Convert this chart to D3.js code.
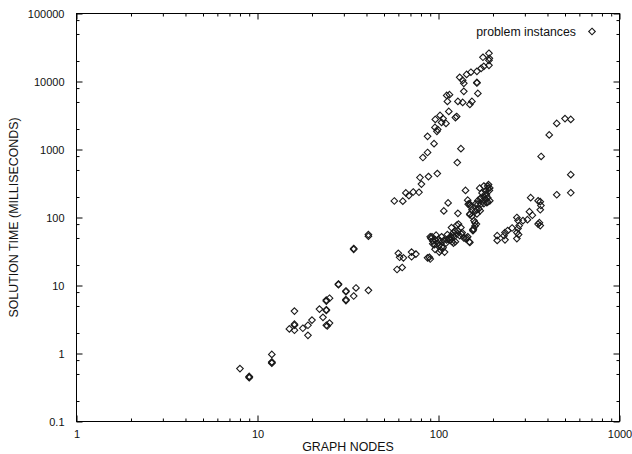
<!DOCTYPE html>
<html>
<head>
<meta charset="utf-8">
<style>
    body { margin: 0; background: white; }
    svg { display: block; font-family: "Liberation Sans", Arial, sans-serif; }
    .tick text { font-size: 11px; fill: #111; }
    .domain { display: none; }
</style>
<script src="https://cdn.jsdelivr.net/npm/d3@7"></script>
</head>
<body>
<svg id="chart"></svg>
<script>

// [graph nodes, solution time in ms]
let smallGraphs = [
    [8, 0.6], [9, 0.45], [9, 0.44], [9, 0.46], [12, 0.97], [12, 0.75], [12, 0.72], [12, 0.74],
    [16, 4.2], [15, 2.3], [16, 2.6], [16, 2.7], [16, 2.2], [17.8, 2.35], [19, 2.6], [20, 3.1], [19, 1.85],
    [22, 4.5], [23, 3.4], [24, 4.3], [24, 4.4], [24, 5.9], [24, 6.1], [25, 6.5], [24, 2.6], [24.3, 2.55],
    [25, 2.8], [28, 10.5], [28, 10.3], [30.8, 8.3], [30.8, 8.1], [30.8, 6.0], [30.8, 6.2], [34, 7.0],
    [35, 9.2], [34, 35], [34, 34], [41, 56], [41, 53], [41, 8.5]
]

let lowerBranch = [
    [59, 17.2], [63, 18.4], [60, 29.7], [61, 26], [64, 25.5], [71, 31], [71, 26.5], [75, 29],
    [87, 25.5], [90, 24.5], [89, 26], [91, 49], [93, 41], [95.7, 34], [92, 52], [96, 47], [99, 42],
    [101, 39], [103, 33], [106, 36], [108, 31], [107, 46], [104, 37], [101, 31], [111, 47], [115, 50],
    [120, 54], [112, 56], [116, 46], [118, 50], [121, 60], [118, 71], [124, 63], [126, 77], [128, 64],
    [129, 80], [133, 71], [134, 57], [124, 44], [121, 42], [131, 54], [138, 50], [143, 50], [141, 49],
    [145, 52], [149, 43], [148, 44], [90, 52], [93, 45], [95, 40], [97, 55], [100, 48], [102, 45],
    [104, 52], [110, 42], [114, 48], [119, 44], [122, 52], [127, 58], [135, 60], [116, 52],
    [128, 115], [107, 125], [113, 164], [141, 250], [145, 180], [148, 160], [151, 145], [149, 113],
    [149, 110], [153, 105], [155, 64], [157, 90], [159, 84], [159, 75], [155, 66], [163, 113], [163, 130],
    [165, 157], [167, 134], [172, 158], [170, 126], [174, 230], [178, 290], [182, 245], [187, 290],
    [189, 305], [187, 195], [191, 250], [178, 160], [182, 185], [172, 193], [165, 177], [161, 160],
    [187, 170], [178, 200], [181, 220], [188, 270], [185, 165], [169, 270], [146, 157], [149, 150],
    [153, 130], [160, 125], [175, 175], [184, 215], [170, 190], [156, 68], [162, 80], [192, 272], [192, 176]
]

let upperBranch = [
    [57, 175], [63.5, 174], [66, 230], [68.6, 210], [72.5, 237], [78, 235], [79, 387], [80.5, 310],
    [88, 400], [98.5, 443], [82, 762], [87, 904], [87, 1560], [94.5, 1220], [99, 1970], [98, 1850],
    [95.6, 2110], [96, 2770], [106, 2850], [104, 2500], [110, 2420], [102, 3170], [126, 3060],
    [124, 2950], [114, 3630], [112, 5100], [111, 6250], [115, 6400], [128, 5100], [136, 4930],
    [149, 4600], [153, 5100], [127, 643], [133, 1030], [138, 7160], [165, 6680], [138, 9400],
    [136, 10400], [163, 9700], [163, 9500], [131, 11500], [143, 12700], [151, 13700], [163, 14100],
    [172, 15600], [178, 16700], [190, 17300], [191, 21900], [176, 22700], [190, 26000], [190, 20500]
]

let largeGraphs = [
    [211, 54], [211, 46], [230, 54], [233, 60], [233, 47], [241, 64], [255, 70], [271, 49],
    [277, 56], [271, 60], [275, 69], [279, 76], [271, 100], [275, 90], [293, 90], [310, 93],
    [330, 108], [318, 122], [323, 196], [355, 80], [361, 84], [365, 76], [365, 130], [368, 150],
    [355, 176], [365, 171], [369, 790], [409, 1640], [450, 2420], [500, 2850], [538, 2770],
    [538, 427], [538, 231], [450, 216]
]

let points = smallGraphs.concat(lowerBranch, upperBranch, largeGraphs)

let xTicks = [1, 10, 100, 1000]
let yTicks = [0.1, 1, 10, 100, 1000, 10000, 100000]
let xMinor = [2, 3, 4, 5, 6, 7, 8, 9]
let yMinor = [2, 5, 8]

let width = 632
let height = 454
let plotLeft = 76.5, plotRight = 619.5, plotTop = 13.5, plotBottom = 421.5

let svg = d3.select("#chart")
    .attr("width", width)
    .attr("height", height)

let x = d3.scaleLog().domain([1, 1000]).range([plotLeft, plotRight])
let y = d3.scaleLog().domain([0.1, 100000]).range([plotBottom, plotTop])

function minors(majors, steps) {
    let out = []
    for (let m of majors.slice(0, -1)) {
        for (let s of steps) out.push(m * s)
    }
    return out
}

let xMinorVals = minors(xTicks, xMinor)
let yMinorVals = minors(yTicks, yMinor)

// bottom + top ticks, pointing inward
svg.append("g")
    .attr("transform", `translate(0,${plotBottom})`)
    .call(d3.axisBottom(x).tickValues(xTicks).tickFormat(d3.format("d"))
        .tickSize(-6).tickSizeOuter(0).tickPadding(9))
svg.append("g")
    .attr("transform", `translate(0,${plotBottom})`)
    .call(d3.axisBottom(x).tickValues(xMinorVals).tickFormat("").tickSize(-3).tickSizeOuter(0))
svg.append("g")
    .attr("transform", `translate(0,${plotTop})`)
    .call(d3.axisTop(x).tickValues(xTicks).tickFormat("").tickSize(-6).tickSizeOuter(0))
svg.append("g")
    .attr("transform", `translate(0,${plotTop})`)
    .call(d3.axisTop(x).tickValues(xMinorVals).tickFormat("").tickSize(-3).tickSizeOuter(0))

// left + right ticks
svg.append("g")
    .attr("transform", `translate(${plotLeft},0)`)
    .call(d3.axisLeft(y).tickValues(yTicks).tickFormat(d => d < 1 ? "0.1" : d3.format("d")(d))
        .tickSize(-6).tickSizeOuter(0).tickPadding(12))
svg.append("g")
    .attr("transform", `translate(${plotLeft},0)`)
    .call(d3.axisLeft(y).tickValues(yMinorVals).tickFormat("").tickSize(-3).tickSizeOuter(0))
svg.append("g")
    .attr("transform", `translate(${plotRight},0)`)
    .call(d3.axisRight(y).tickValues(yTicks).tickFormat("").tickSize(-6).tickSizeOuter(0))
svg.append("g")
    .attr("transform", `translate(${plotRight},0)`)
    .call(d3.axisRight(y).tickValues(yMinorVals).tickFormat("").tickSize(-3).tickSizeOuter(0))

svg.selectAll(".tick line").attr("stroke", "#000")

// frame
svg.append("rect")
    .attr("x", plotLeft).attr("y", plotTop)
    .attr("width", plotRight - plotLeft).attr("height", plotBottom - plotTop)
    .attr("fill", "none").attr("stroke", "#000").attr("stroke-width", 1)

let diamond = "M0,-3.3L3.3,0L0,3.3L-3.3,0Z"

svg.append("g").selectAll("path").data(points)
    .enter().append("path")
    .attr("d", diamond)
    .attr("transform", d => `translate(${x(d[0])},${y(d[1])})`)
    .attr("fill", "none")
    .attr("stroke", "#1a1a1a")
    .attr("stroke-width", 1.1)

// legend
svg.append("text")
    .attr("x", 576).attr("y", 36)
    .attr("text-anchor", "end")
    .attr("font-size", 12.3).attr("fill", "#111")
    .text("problem instances")
svg.append("path")
    .attr("d", diamond)
    .attr("transform", "translate(592,31.5)")
    .attr("fill", "none").attr("stroke", "#1a1a1a").attr("stroke-width", 1.1)

// axis titles
svg.append("text")
    .attr("x", 348).attr("y", 451)
    .attr("text-anchor", "middle")
    .attr("font-size", 12.4).attr("fill", "#111")
    .text("GRAPH NODES")
svg.append("text")
    .attr("transform", `translate(17.5,${(plotTop + plotBottom) / 2}) rotate(-90)`)
    .attr("text-anchor", "middle")
    .attr("font-size", 12.4).attr("fill", "#111")
    .text("SOLUTION TIME (MILLISECONDS)")

</script>
</body>
</html>
